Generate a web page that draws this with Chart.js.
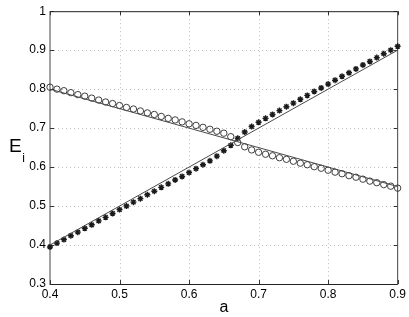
<!DOCTYPE html>
<html>
<head>
<meta charset="utf-8">
<script src="https://cdn.jsdelivr.net/npm/chart.js@4"></script>
<style>
  html,body{margin:0;padding:0;background:#fff;}
  #wrap{width:409px;height:317px;}
</style>
</head>
<body>
<div id="wrap"><canvas id="c" width="409" height="317"></canvas></div>
<script>
// ---- data ----
const aValues = [0.40,0.41,0.42,0.43,0.44,0.45,0.46,0.47,0.48,0.49,
                 0.50,0.51,0.52,0.53,0.54,0.55,0.56,0.57,0.58,0.59,
                 0.60,0.61,0.62,0.63,0.64,0.65,0.66,0.67,0.68,0.69,
                 0.70,0.71,0.72,0.73,0.74,0.75,0.76,0.77,0.78,0.79,
                 0.80,0.81,0.82,0.83,0.84,0.85,0.86,0.87,0.88,0.89,0.90];
const circleValues = [0.805,0.800,0.796,0.791,0.786,0.782,0.777,0.772,0.767,0.763,
                      0.758,0.753,0.749,0.744,0.739,0.735,0.730,0.725,0.721,0.716,
                      0.711,0.707,0.702,0.697,0.692,0.687,0.678,0.663,0.652,0.644,
                      0.638,0.633,0.629,0.624,0.620,0.615,0.610,0.606,0.601,0.597,
                      0.592,0.587,0.583,0.578,0.574,0.569,0.564,0.560,0.555,0.551,0.546];
const starValues = [0.395,0.405,0.414,0.424,0.433,0.443,0.452,0.462,0.471,0.481,
                    0.491,0.500,0.510,0.519,0.529,0.538,0.548,0.557,0.567,0.576,
                    0.586,0.596,0.606,0.616,0.628,0.642,0.656,0.674,0.690,0.704,
                    0.715,0.725,0.735,0.745,0.755,0.764,0.774,0.784,0.794,0.803,
                    0.813,0.823,0.833,0.842,0.852,0.862,0.871,0.881,0.891,0.900,0.910];
const lineDownX = [0.4, 0.9];
const lineDownY = [0.80, 0.55];
const lineUpX = [0.4, 0.9];
const lineUpY = [0.40, 0.90];
const xTicks = [0.4,0.5,0.6,0.7,0.8,0.9];
const yTicks = [0.3,0.4,0.5,0.6,0.7,0.8,0.9,1];
const xTitle = 'a';
const yTitleMain = 'E';
const yTitleSub = 'i';

const toPts = (xs, ys) => xs.map((x, i) => ({x: x, y: ys[i]}));

const FONT = '"Liberation Sans", Arial, Helvetica, sans-serif';

const framePlugin = {
  id: 'frame',
  beforeDatasetsDraw(chart) {
    const {ctx, chartArea: ca, scales: {x, y}} = chart;
    ctx.save();
    // dotted grid
    ctx.strokeStyle = '#bdbdbd';
    ctx.lineWidth = 1;
    ctx.setLineDash([1, 3]);
    xTicks.slice(1, -1).forEach(v => {
      const px = Math.round(x.getPixelForValue(v)) + 0.5;
      ctx.beginPath(); ctx.moveTo(px, ca.top); ctx.lineTo(px, ca.bottom); ctx.stroke();
    });
    yTicks.slice(1, -1).forEach(v => {
      const py = Math.round(y.getPixelForValue(v)) + 0.5;
      ctx.beginPath(); ctx.moveTo(ca.left, py); ctx.lineTo(ca.right, py); ctx.stroke();
    });
    ctx.setLineDash([]);
    // inner ticks
    ctx.strokeStyle = '#333';
    const tl = 4;
    xTicks.forEach(v => {
      const px = Math.round(x.getPixelForValue(v)) + 0.5;
      ctx.beginPath(); ctx.moveTo(px, ca.bottom); ctx.lineTo(px, ca.bottom - tl); ctx.stroke();
      ctx.beginPath(); ctx.moveTo(px, ca.top); ctx.lineTo(px, ca.top + tl); ctx.stroke();
    });
    yTicks.forEach(v => {
      const py = Math.round(y.getPixelForValue(v)) + 0.5;
      ctx.beginPath(); ctx.moveTo(ca.left, py); ctx.lineTo(ca.left + tl, py); ctx.stroke();
      ctx.beginPath(); ctx.moveTo(ca.right, py); ctx.lineTo(ca.right - tl, py); ctx.stroke();
    });
    // box
    ctx.strokeStyle = '#222';
    ctx.lineWidth = 1;
    ctx.beginPath();
    ctx.moveTo(ca.left, ca.top + 0.5); ctx.lineTo(ca.right, ca.top + 0.5);
    ctx.moveTo(ca.left, ca.bottom + 0.5); ctx.lineTo(ca.right, ca.bottom + 0.5);
    ctx.stroke();
    ctx.strokeStyle = '#444';
    ctx.beginPath();
    ctx.moveTo(ca.left, ca.top); ctx.lineTo(ca.left, ca.bottom + 1);
    ctx.moveTo(ca.right, ca.top); ctx.lineTo(ca.right, ca.bottom + 1);
    ctx.stroke();
    ctx.restore();
  },
  afterDraw(chart) {
    const {ctx, chartArea: ca} = chart;
    ctx.save();
    ctx.fillStyle = '#000';
    // x title
    ctx.font = '16px ' + FONT;
    ctx.textAlign = 'center';
    ctx.textBaseline = 'middle';
    ctx.fillText(xTitle, (ca.left + ca.right) / 2, 308);
    // y title (upright) with subscript
    ctx.textAlign = 'left';
    ctx.textBaseline = 'alphabetic';
    ctx.font = '19px ' + FONT;
    ctx.fillText(yTitleMain, 9, 152);
    const wE = ctx.measureText(yTitleMain).width;
    ctx.font = '12px ' + FONT;
    ctx.fillText(yTitleSub, 9 + wE + 0.5, 162);
    ctx.restore();
  }
};

new Chart(document.getElementById('c'), {
  type: 'scatter',
  data: {
    datasets: [
      {
        label: 'line down', data: toPts(lineDownX, lineDownY), showLine: true,
        borderColor: '#4a4a4a', borderWidth: 1, pointRadius: 0, fill: false, clip: false
      },
      {
        label: 'line up', data: toPts(lineUpX, lineUpY), showLine: true,
        borderColor: '#4a4a4a', borderWidth: 1, pointRadius: 0, fill: false, clip: false
      },
      {
        label: 'circles', data: toPts(aValues, circleValues), showLine: false,
        pointStyle: 'circle', pointRadius: 3.2, pointBorderWidth: 0.9,
        pointBorderColor: '#2a2a2a', pointBackgroundColor: 'rgba(0,0,0,0)', clip: false
      },
      {
        label: 'stars', data: toPts(aValues, starValues), showLine: false,
        pointStyle: 'star', pointRadius: 3, pointBorderWidth: 1.4,
        pointBorderColor: '#1a1a1a', pointBackgroundColor: '#1a1a1a', clip: false
      }
    ]
  },
  options: {
    responsive: false,
    animation: false,
    events: [],
    layout: { padding: { top: 10, right: 11, left: 0, bottom: 0 } },
    plugins: { legend: { display: false }, tooltip: { enabled: false } },
    scales: {
      x: {
        type: 'linear', min: 0.4, max: 0.9,
        afterBuildTicks: s => { s.ticks = xTicks.map(v => ({value: v})); },
        afterFit: s => { s.height = 33; },
        grid: { display: false, drawTicks: false },
        border: { display: false },
        ticks: {
          padding: 3, color: '#000', font: { family: FONT, size: 12 },
          maxRotation: 0, autoSkip: false,
          callback: v => String(+v.toFixed(1))
        }
      },
      y: {
        type: 'linear', min: 0.3, max: 1,
        afterBuildTicks: s => { s.ticks = yTicks.map(v => ({value: v})); },
        afterFit: s => { s.width = 50; },
        grid: { display: false, drawTicks: false },
        border: { display: false },
        ticks: {
          padding: 4, color: '#000', font: { family: FONT, size: 12 },
          autoSkip: false,
          callback: v => String(+v.toFixed(1))
        }
      }
    }
  },
  plugins: [framePlugin]
});
</script>
</body>
</html>
